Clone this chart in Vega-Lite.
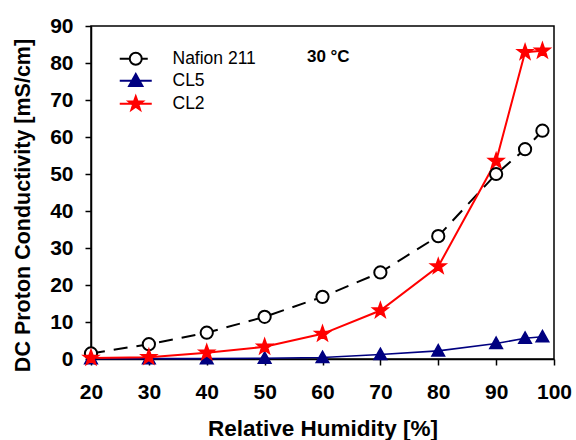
{
  "$schema": "https://vega.github.io/schema/vega-lite/v6.json",
  "width": 463,
  "height": 333,
  "autosize": {"type": "none"},
  "padding": {"left": 91, "top": 26, "right": 22, "bottom": 81},
  "background": "white",
  "config": {
    "view": {"stroke": "black", "strokeWidth": 1.5},
    "font": "Liberation Sans",
    "axis": {
      "grid": false,
      "domainColor": "black",
      "domainWidth": 1.5,
      "tickColor": "black",
      "tickWidth": 1.5,
      "tickSize": 6,
      "labelFont": "Liberation Sans",
      "labelFontWeight": "bold",
      "labelFontSize": 21,
      "labelColor": "black",
      "labelFlush": false,
      "titleFont": "Liberation Sans",
      "titleFontWeight": "bold",
      "titleColor": "black"
    },
    "legend": {
      "title": null,
      "orient": "none",
      "legendX": 36,
      "legendY": 24,
      "padding": 0,
      "symbolSize": 178,
      "symbolStrokeWidth": 2,
      "symbolOpacity": 1,
      "labelFont": "Liberation Sans",
      "labelFontSize": 17.5,
      "labelColor": "black",
      "labelOffset": 28,
      "rowPadding": 1
    }
  },
  "data": {
    "values": [
      {"series": "Nafion 211", "rh": 20, "sigma": 1.5},
      {"series": "Nafion 211", "rh": 30, "sigma": 4.0},
      {"series": "Nafion 211", "rh": 40, "sigma": 7.1},
      {"series": "Nafion 211", "rh": 50, "sigma": 11.4},
      {"series": "Nafion 211", "rh": 60, "sigma": 16.8},
      {"series": "Nafion 211", "rh": 70, "sigma": 23.4},
      {"series": "Nafion 211", "rh": 80, "sigma": 33.2},
      {"series": "Nafion 211", "rh": 90, "sigma": 50.0},
      {"series": "Nafion 211", "rh": 95, "sigma": 56.7},
      {"series": "Nafion 211", "rh": 98, "sigma": 61.7},
      {"series": "CL5", "rh": 20, "sigma": 0.1},
      {"series": "CL5", "rh": 30, "sigma": 0.1},
      {"series": "CL5", "rh": 40, "sigma": 0.1},
      {"series": "CL5", "rh": 50, "sigma": 0.2},
      {"series": "CL5", "rh": 60, "sigma": 0.4},
      {"series": "CL5", "rh": 70, "sigma": 1.2},
      {"series": "CL5", "rh": 80, "sigma": 2.2},
      {"series": "CL5", "rh": 90, "sigma": 4.2},
      {"series": "CL5", "rh": 95, "sigma": 5.6},
      {"series": "CL5", "rh": 98, "sigma": 6.0},
      {"series": "CL2", "rh": 20, "sigma": 0.3},
      {"series": "CL2", "rh": 30, "sigma": 0.5},
      {"series": "CL2", "rh": 40, "sigma": 1.7},
      {"series": "CL2", "rh": 50, "sigma": 3.3},
      {"series": "CL2", "rh": 60, "sigma": 6.8},
      {"series": "CL2", "rh": 70, "sigma": 13.1},
      {"series": "CL2", "rh": 80, "sigma": 25.0},
      {"series": "CL2", "rh": 90, "sigma": 53.5},
      {"series": "CL2", "rh": 95, "sigma": 82.9},
      {"series": "CL2", "rh": 98, "sigma": 83.3}
    ]
  },
  "encoding": {
    "x": {
      "field": "rh", "type": "quantitative",
      "scale": {"domain": [20, 100], "nice": false},
      "axis": {"values": [20, 30, 40, 50, 60, 70, 80, 90, 100], "title": "Relative Humidity [%]", "labelPadding": 16, "titleFontSize": 22.5, "titleY": 69, "titleBaseline": "middle"}
    },
    "y": {
      "field": "sigma", "type": "quantitative",
      "scale": {"domain": [0, 90], "nice": false},
      "axis": {"values": [0, 10, 20, 30, 40, 50, 60, 70, 80, 90], "title": "DC Proton Conductivity [mS/cm]", "labelPadding": 12, "titleFontSize": 21.5, "titleX": -68, "titleY": 179, "titleAngle": -90, "titleAlign": "center", "titleBaseline": "middle"}
    }
  },
  "layer": [
    {
      "transform": [{"filter": "datum.series === 'Nafion 211'"}],
      "mark": {"type": "line", "strokeWidth": 2, "color": "black", "strokeDash": [14, 9]},
      "encoding": {}
    },
    {
      "transform": [{"filter": "datum.series === 'CL5'"}],
      "mark": {"type": "line", "strokeWidth": 1.6, "color": "#000080"},
      "encoding": {}
    },
    {
      "transform": [{"filter": "datum.series === 'CL2'"}],
      "mark": {"type": "line", "strokeWidth": 2, "color": "#ff0000"},
      "encoding": {}
    },
    {
      "transform": [{"filter": "datum.series === 'Nafion 211'"}],
      "mark": {"type": "point", "shape": "circle", "size": 150, "filled": true, "fill": "white", "stroke": "black", "strokeWidth": 2, "opacity": 1}
    },
    {
      "transform": [{"filter": "datum.series === 'CL5'"}],
      "mark": {"type": "point", "shape": "M0,-1L1,0.8L-1,0.8Z", "size": 160, "filled": true, "fill": "#000080", "stroke": "#000080", "strokeWidth": 1.5, "opacity": 1}
    },
    {
      "transform": [{"filter": "datum.series === 'CL2'"}],
      "mark": {"type": "point", "shape": "M0,-1L0.235,-0.324L0.951,-0.309L0.38,0.124L0.588,0.809L0,0.4L-0.588,0.809L-0.38,0.124L-0.951,-0.309L-0.235,-0.324Z", "size": 260, "filled": true, "fill": "#ff0000", "stroke": "#ff0000", "strokeWidth": 1.5, "opacity": 1}
    },
    {
      "mark": {"type": "point", "filled": false, "strokeWidth": 2, "opacity": 0},
      "encoding": {
        "color": {
          "field": "series", "type": "nominal",
          "scale": {"domain": ["Nafion 211", "CL5", "CL2"], "range": ["black", "#000080", "#ff0000"]}
        },
        "fill": {
          "field": "series", "type": "nominal",
          "scale": {"domain": ["Nafion 211", "CL5", "CL2"], "range": ["white", "#000080", "#ff0000"]}
        },
        "shape": {
          "field": "series", "type": "nominal",
          "scale": {"domain": ["Nafion 211", "CL5", "CL2"], "range": [
            "M-2.4,0L-0.9,0M0.9,0L1.8,0M0.9,0A0.9,0.9 0 1,1 -0.9,0A0.9,0.9 0 1,1 0.9,0",
            "M-2.4,0L2.4,0M0,-1L1,0.8L-1,0.8Z",
            "M-2.4,0L2.4,0M0,-1.1L0.26,-0.36L1.05,-0.34L0.42,0.14L0.65,0.89L0,0.44L-0.65,0.89L-0.42,0.14L-1.05,-0.34L-0.26,-0.36Z"
          ]}
        }
      }
    },
    {
      "data": {"values": [{"label": "30 °C", "rh": 61, "sigma": 81.6}]},
      "mark": {"type": "text", "font": "Liberation Sans", "fontWeight": "bold", "fontSize": 17, "color": "black"},
      "encoding": {"text": {"field": "label"}}
    }
  ]
}
